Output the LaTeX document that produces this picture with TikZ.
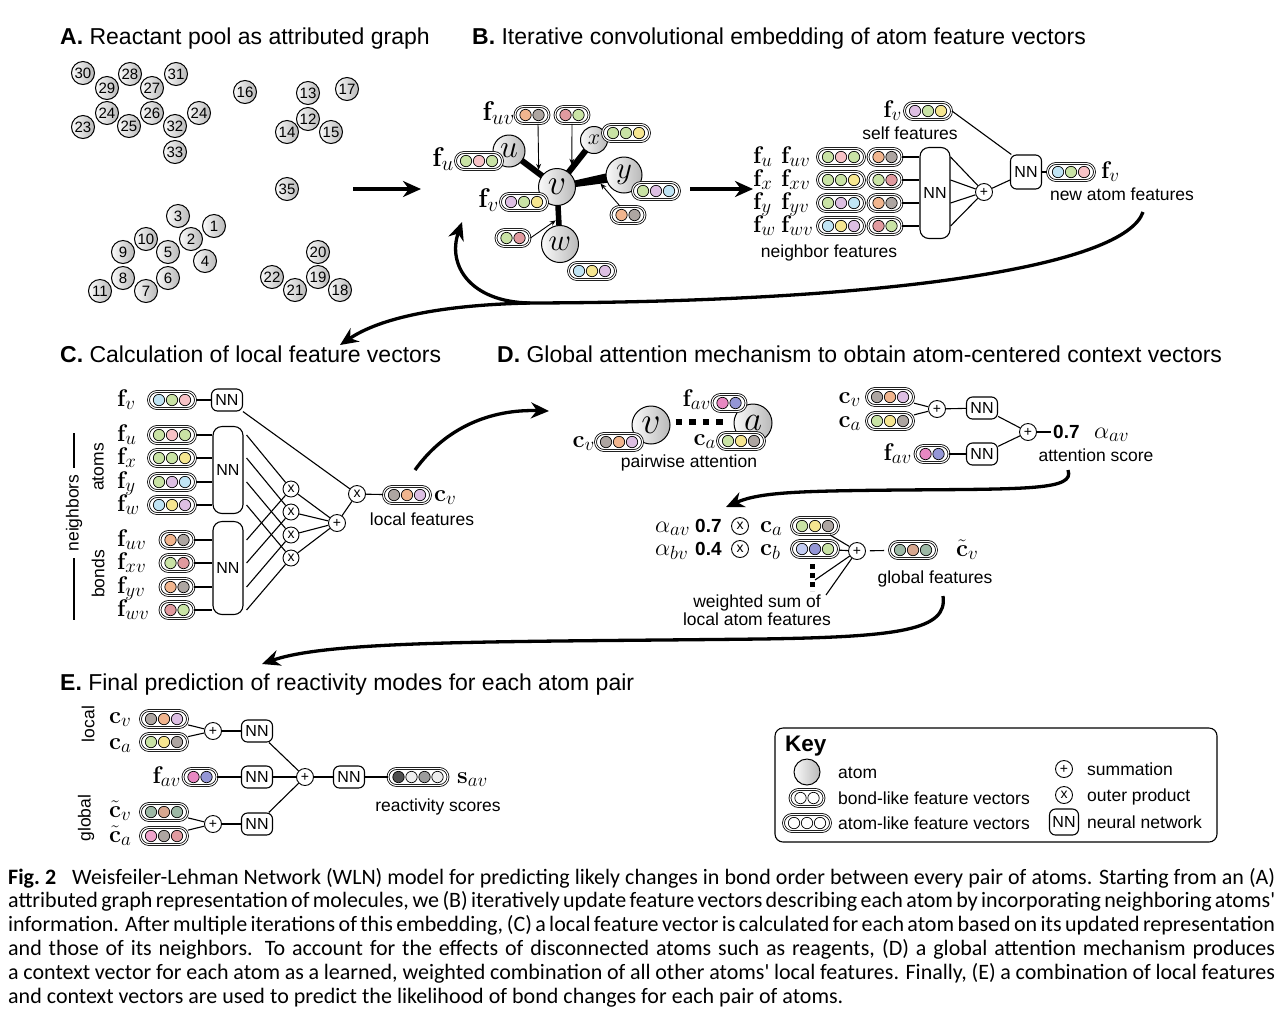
\RequirePackage{fix-cm}
\documentclass[tikz,border=0pt]{standalone}
\usepackage[no-math]{fontspec}
\setmainfont{Liberation Sans}
\newfontfamily\capfont{Carlito}
\usetikzlibrary{arrows.meta,calc}
\DeclareMathSizes{24}{24}{19}{14}
\DeclareMathSizes{27}{27}{21}{16}
\pgfdeclarelayer{bg}
\pgfsetlayers{bg,main}
\definecolor{cg}{HTML}{C9E3A5}
\definecolor{cpk}{HTML}{F7C2C6}
\definecolor{cy}{HTML}{F6E690}
\definecolor{cl}{HTML}{DDBFE3}
\definecolor{cb}{HTML}{C0E4F4}
\definecolor{co}{HTML}{F1B58E}
\definecolor{cgr}{HTML}{ADA5A1}
\definecolor{cr}{HTML}{E19A9F}
\definecolor{cm}{HTML}{E888C2}
\definecolor{cpw}{HTML}{9496D6}
\definecolor{cs}{HTML}{9DB8A5}
\definecolor{cbr}{HTML}{D7A78F}
\definecolor{cdk}{HTML}{4E4E4E}
\definecolor{cmid}{HTML}{9C9C9C}
\definecolor{clt}{HTML}{EDEDED}
\definecolor{cbl}{HTML}{C3CCF2}
\definecolor{cmp}{HTML}{EEA3CB}
\newcommand\fv[4]{%
  \foreach \cc [count=\ii] in {#4} {\xdef\fvn{\ii}}%
  \node[pill, minimum width={\fvn*13+8}] (#1) at (#2,#3) {};
  \foreach \cc [count=\ii] in {#4}
    {\draw[line width=0.7pt, fill=\cc] ({#2+(\ii-(\fvn+1)/2)*13},#3) circle (5.7);}
}
\tikzset{
  pill/.style={draw, line width=0.8pt, double=white, double distance=1.1pt, rounded corners=8.5pt, minimum height=17pt, inner sep=0pt, fill=white},
  atom/.style={circle, draw, line width=1pt, inner sep=0pt, left color=gray!4, right color=gray!55},
  atomA/.style={atom, minimum size=23pt, font=\fontsize{15}{15}\selectfont},
  op/.style={circle, draw, line width=0.9pt, minimum size=17pt, inner sep=0pt, fill=white, font=\fontsize{14}{14}\selectfont},
  nn/.style={draw, line width=1.1pt, rounded corners=6pt, minimum width=31pt, minimum height=22pt, inner sep=0pt, fill=white, font=\fontsize{16}{16}\selectfont},
  nnbig/.style={nn, rounded corners=9pt, minimum width=30pt},
  conn/.style={line width=1.1pt},
  lbl/.style={inner sep=0pt, anchor=base, font=\fontsize{17.5}{18}\selectfont},
  ml/.style={inner sep=0pt, font=\fontsize{24}{24}\selectfont},
  mlb/.style={inner sep=0pt, font=\fontsize{27}{27}\selectfont},
  ttl/.style={inner sep=0pt, anchor=base west, font=\fontsize{23}{24}\selectfont},
  num/.style={inner sep=0pt, anchor=west, font=\bfseries\fontsize{19}{19}\selectfont},
  bigarrow/.style={line width=3.3pt, -{Stealth[length=18pt,width=16pt]}},
  thinarrow/.style={line width=0.9pt, -{Stealth[length=6pt,width=5pt]}},
}
\begin{document}
\begin{tikzpicture}[x=1pt,y=-1pt]
\useasboundingbox (0,0) rectangle (1282,1013);
\begin{pgfonlayer}{bg}\fill[white] (0,0) rectangle (1282,1013);\end{pgfonlayer}

% titles
\node[ttl] (tA) at (60,44) {\textbf{A.} Reactant pool as attributed graph};
\node[ttl] (tB) at (472,44) {\textbf{B.} Iterative convolutional embedding of atom feature vectors};
\node[ttl] (tC) at (60,362) {\textbf{C.} Calculation of local feature vectors};
\node[ttl] (tD) at (497,362) {\textbf{D.} Global attention mechanism to obtain atom-centered context vectors};
\node[ttl] (tE) at (60,690) {\textbf{E.} Final prediction of reactivity modes for each atom pair};

% panel A
\foreach \n/\x/\y/\t in {a30/83/73/30, a28/130/74/28, a31/176/74/31, a29/107/88/29, a27/152/88/27,
  a23/83/127/23, a25/129/126/25, a24/107/113/24, a26/152/113/26, a32/175/126/32, a24b/199/113/24, a33/175/152/33,
  a16/245/92/16, a13/308/93/13, a17/347/89/17, a12/308/119/12, a14/287/132/14, a15/331/132/15, a35/287/189/35,
  a3/178/216/3, a1/214/226/1, a2/191/239/2, a10/146/239/10, a9/123/252/9, a5/168/252/5, a4/205/261/4,
  a8/123/278/8, a6/168/278/6, a11/100/291/11, a7/146/291/7,
  a20/318/252/20, a22/272/277/22, a19/318/277/19, a21/295/290/21, a18/340/290/18}
  {\node[atomA] (\n) at (\x,\y) {\t};}
\coordinate (ab1) at (353,189); \coordinate (ab2) at (421,189);
\draw[bigarrow] (ab1) -- (ab2);

% panel B left
\node[atom, minimum size=32pt] (bu) at (509,151) {\fontsize{32}{32}\selectfont$u$};
\node[atom, minimum size=37pt] (bv) at (557,187) {\fontsize{36}{36}\selectfont$v$};
\node[atom, minimum size=27pt] (bx) at (594,140) {\fontsize{22}{22}\selectfont$x$};
\node[atom, minimum size=36pt] (by) at (624,175) {\fontsize{31}{31}\selectfont$y$};
\node[atom, minimum size=37pt] (bw) at (560,244) {\fontsize{31}{31}\selectfont$w$};
\begin{pgfonlayer}{bg}
\draw[line width=6pt] (bv.center) -- (bu.center);
\draw[line width=6pt] (bv.center) -- (bx.center);
\draw[line width=5.5pt] (bv.center) -- (bw.center);
\fill ($(bv.center)!2.5pt!90:(by.center)$) -- ($(by.center)!5.5pt!-90:(bv.center)$) -- ($(by.center)!5.5pt!90:(bv.center)$) -- ($(bv.center)!2.5pt!-90:(by.center)$) -- cycle;
\end{pgfonlayer}
\fv{bfuv}{532}{115}{co,cgr}
\fv{bxv}{572}{115}{cr,cg}
\fv{bfx}{626}{133}{cg,cg,cy}
\fv{bfu}{479}{161}{cg,cpk,cg}
\fv{bfv}{524}{202}{cl,cg,cy}
\fv{bfy}{656}{191}{cg,cl,cb}
\fv{byv}{628}{215}{co,cgr}
\fv{bwv}{513}{238}{cg,cr}
\fv{bfw}{592}{271}{cb,cy,cl}
\node[mlb, anchor=base east] (lfuv) at (515,120) {$\mathbf{f}_{uv}$};
\node[mlb, anchor=base east] (lfu) at (454,166) {$\mathbf{f}_{u}$};
\node[mlb, anchor=base east] (lfv) at (499,207) {$\mathbf{f}_{v}$};
\coordinate (tuv) at ($(bu)!0.62!(bv)$);
\draw[thinarrow, shorten >=3.5pt] ([xshift=6pt]bfuv.south) -- (tuv);
\coordinate (txv) at ($(bx)!0.6!(bv)$);
\draw[thinarrow, shorten >=3.5pt] (bxv.south) -- (txv);
\coordinate (tyv) at ($(bv)!0.6!(by)$);
\draw[thinarrow, shorten >=5pt] ([xshift=-8pt]byv.north) -- (tyv);
\coordinate (twv) at ($(bv)!0.55!(bw)$);
\draw[thinarrow, shorten >=3.5pt] (bwv.east) -- (twv);
\coordinate (bb1) at (690,189); \coordinate (bb2) at (753,189);
\draw[bigarrow] (bb1) -- (bb2);

% panel B right
\fv{bself}{928}{111}{cl,cg,cy}
\node[ml, anchor=base east] (lbself) at (902,117) {$\mathbf{f}_{v}$};
\node[lbl] (tself) at (910,139) {self features};
\fv{r1a}{841}{157}{cg,cpk,cg} \fv{r1b}{885}{157}{co,cgr}
\fv{r2a}{841}{180}{cg,cg,cy} \fv{r2b}{885}{180}{cg,cr}
\fv{r3a}{841}{203}{cg,cl,cb} \fv{r3b}{885}{203}{co,cgr}
\fv{r4a}{841}{226}{cb,cy,cl} \fv{r4b}{885}{226}{cr,cg}
\node[ml, anchor=base west] (l1a) at (753,163) {$\mathbf{f}_{u}$};
\node[ml, anchor=base west] (l1b) at (781,163) {$\mathbf{f}_{uv}$};
\node[ml, anchor=base west] (l2a) at (753,186) {$\mathbf{f}_{x}$};
\node[ml, anchor=base west] (l2b) at (781,186) {$\mathbf{f}_{xv}$};
\node[ml, anchor=base west] (l3a) at (753,209) {$\mathbf{f}_{y}$};
\node[ml, anchor=base west] (l3b) at (781,209) {$\mathbf{f}_{yv}$};
\node[ml, anchor=base west] (l4a) at (753,232) {$\mathbf{f}_{w}$};
\node[ml, anchor=base west] (l4b) at (781,232) {$\mathbf{f}_{wv}$};
\node[nnbig, minimum height=91pt] (bnn) at (935,193) {NN};
\node[op] (bplus) at (984,192) {+};
\node[nn, minimum height=34pt] (bnn2) at (1026,172) {NN};
\fv{bnew}{1071}{172}{cb,cg,cpk}
\node[ml, anchor=base west] (lbnew) at (1101,178) {$\mathbf{f}_{v}$};
\node[lbl] (tnew) at (1122,200) {new atom features};
\node[lbl] (tneigh) at (829,257) {neighbor features};
\draw[conn] (r1b.east) -- (r1b.east -| bnn.west);
\draw[conn] (r2b.east) -- (r2b.east -| bnn.west);
\draw[conn] (r3b.east) -- (r3b.east -| bnn.west);
\draw[conn] (r4b.east) -- (r4b.east -| bnn.west);
\draw[conn] (bnn.east |- r1b) -- (bplus);
\draw[conn] (bnn.east |- r2b) -- (bplus);
\draw[conn] (bnn.east |- r3b) -- (bplus);
\draw[conn] (bnn.east |- r4b) -- (bplus);
\draw[conn] (bself.east) -- (bnn2.130);
\draw[conn] (bplus) -- ($(bnn2.west)+(0,8)$);
\draw[conn] (bnn2) -- (bnew);

% big curve B -> C
\coordinate (k1) at (1143,212);
\coordinate (kj) at (530,303);
\coordinate (k2) at (340,345);
\coordinate (k3) at (462,222);
\draw[bigarrow] (k1) .. controls (1125,265) and (900,302) .. (kj) .. controls (440,305) and (380,318) .. (k2);
\draw[bigarrow] (kj) .. controls (470,302) and (447,265) .. (k3);

% panel C
\fv{cfv}{172}{400}{cb,cg,cpk}
\node[ml, anchor=base west] (lcfv) at (117,406) {$\mathbf{f}_{v}$};
\node[nn] (cnn0) at (227,400) {NN};
\draw[conn] (cfv.east) -- (cnn0.west);
\fv{ca1}{172}{435}{cg,cpk,cg}
\fv{ca2}{172}{458}{cg,cg,cy}
\fv{ca3}{172}{482}{cg,cl,cb}
\fv{ca4}{172}{505}{cb,cy,cl}
\node[ml, anchor=base west] (lca1) at (117,441) {$\mathbf{f}_{u}$};
\node[ml, anchor=base west] (lca2) at (117,464) {$\mathbf{f}_{x}$};
\node[ml, anchor=base west] (lca3) at (117,488) {$\mathbf{f}_{y}$};
\node[ml, anchor=base west] (lca4) at (117,511) {$\mathbf{f}_{w}$};
\node[nnbig, minimum height=87pt] (cnna) at (228,470) {NN};
\fv{cb1}{177}{540}{co,cgr}
\fv{cb2}{177}{563}{cg,cr}
\fv{cb3}{177}{587}{co,cgr}
\fv{cb4}{177}{610}{cr,cg}
\node[ml, anchor=base west] (lcb1) at (117,546) {$\mathbf{f}_{uv}$};
\node[ml, anchor=base west] (lcb2) at (117,569) {$\mathbf{f}_{xv}$};
\node[ml, anchor=base west] (lcb3) at (117,593) {$\mathbf{f}_{yv}$};
\node[ml, anchor=base west] (lcb4) at (117,616) {$\mathbf{f}_{wv}$};
\node[nnbig, minimum height=93pt] (cnnb) at (228,568) {NN};
\foreach \r in {1,2,3,4} {
  \draw[conn] (ca\r.east) -- (ca\r.east -| cnna.west);
  \draw[conn] (cb\r.east) -- (cb\r.east -| cnnb.west);
}
\node[op, minimum size=16pt] (cx1) at (291,489) {x};
\node[op, minimum size=16pt] (cx2) at (291,512) {x};
\node[op, minimum size=16pt] (cx3) at (291,535) {x};
\node[op, minimum size=16pt] (cx4) at (291,558) {x};
\node[op] (cplus) at (337,523) {+};
\node[op] (cxt) at (357,494) {x};
\foreach \r in {1,2,3,4} {
  \draw[conn] ([xshift=3pt]cnna.east |- ca\r) -- (cx\r);
  \draw[conn] ([xshift=3pt]cnnb.east |- cb\r) -- (cx\r);
  \draw[conn] (cx\r) -- (cplus);
}
\draw[conn] (cplus) -- (cxt);
\draw[conn] (cnn0) -- (cxt);
\fv{cloc}{407}{495}{cgr,co,cl}
\draw[conn] (cxt) -- (cloc);
\node[ml, anchor=base west] (lcloc) at (434,501) {$\mathbf{c}_{v}$};
\node[lbl] (tloc) at (422,525) {local features};
\node[lbl, anchor=center, rotate=90] (tneighbors) at (74,513) {neighbors};
\node[lbl, anchor=center, rotate=90] (tatoms) at (98,467) {atoms};
\node[lbl, anchor=center, rotate=90] (tbonds) at (98,574) {bonds};
\coordinate (nl1) at (74,433); \coordinate (nl2) at (74,468);
\coordinate (nl3) at (74,558); \coordinate (nl4) at (74,620);
\draw[conn] (nl1) -- (nl2); \draw[conn] (nl3) -- (nl4);
\coordinate (cd1) at (415,470); \coordinate (cd2) at (549,411);
\draw[bigarrow] (cd1) .. controls (445,428) and (490,409) .. (cd2);

% panel D top
\node[atom, minimum size=38pt] (dv) at (651,425) {\fontsize{38}{38}\selectfont$v$};
\node[atom, minimum size=38pt] (da) at (753,423) {\fontsize{35}{35}\selectfont$a$};
\draw[line width=6.5pt, dash pattern=on 6.5pt off 7pt] ([shift={(5,-3)}]dv.east) -- ++(49,0);
\fv{dfavp}{729}{403}{cm,cpw}
\node[ml, anchor=base east] (ldfav) at (711,406) {$\mathbf{f}_{av}$};
\fv{dcvp}{619}{442}{cgr,co,cl}
\node[ml, anchor=base east] (ldcv) at (595,447) {$\mathbf{c}_{v}$};
\fv{dcap}{741}{441}{cg,cy,cgr}
\node[ml, anchor=base east] (ldca) at (716,445) {$\mathbf{c}_{a}$};
\node[lbl] (tpair) at (689,467) {pairwise attention};

\fv{dcv2}{890}{397}{cgr,co,cl}
\node[ml, anchor=base east] (ldcv2) at (861,403) {$\mathbf{c}_{v}$};
\fv{dca2}{890}{421}{cg,cy,cgr}
\node[ml, anchor=base east] (ldca2) at (861,427) {$\mathbf{c}_{a}$};
\node[op] (dp1) at (937,409) {+};
\node[nn] (dnn1) at (982,408) {NN};
\fv{dfav2}{932}{454}{cm,cpw}
\node[ml, anchor=base east] (ldfav2) at (912,460) {$\mathbf{f}_{av}$};
\node[nn] (dnn2) at (982,454) {NN};
\node[op] (dp2) at (1028,432) {+};
\node[num] (d07) at (1053,432) {0.7};
\node[ml, anchor=base west] (ldalpha) at (1094,438) {$\alpha_{av}$};
\node[lbl] (tatt) at (1096,461) {attention score};
\draw[conn] (dcv2) -- (dp1);
\draw[conn] (dca2) -- (dp1);
\draw[conn] (dp1) -- (dnn1);
\draw[conn] (dnn1) -- (dp2);
\draw[conn] (dfav2) -- (dnn2);
\draw[conn] (dnn2) -- (dp2);
\draw[conn] (dp2) -- ([xshift=-2pt]d07.west);
\coordinate (dd1) at (1068,470); \coordinate (dd2) at (726,507);
\draw[bigarrow] (dd1) .. controls (1075,490) and (1030,489) .. (900,490) .. controls (800,491) and (760,492) .. (dd2);

% panel D bottom
\node[ml, anchor=base west] (lal1) at (655,532) {$\alpha_{av}$};
\node[num] (d07b) at (695,526) {0.7};
\node[op] (dxa) at (740,526) {x};
\node[ml, anchor=base west] (ldca3) at (760,532) {$\mathbf{c}_{a}$};
\fv{dcap3}{815}{526}{cg,cy,cgr}
\node[ml, anchor=base west] (lal2) at (655,555) {$\alpha_{bv}$};
\node[num] (d04) at (695,549) {0.4};
\node[op] (dxb) at (740,549) {x};
\node[ml, anchor=base west] (ldcb) at (760,555) {$\mathbf{c}_{b}$};
\fv{dcbp}{815}{549}{cbl,cpw,cg}
\node[op] (dsum) at (857,551) {+};
\draw[conn] (dcap3) -- (dsum);
\draw[conn] (dcbp) -- (dsum);
\coordinate (dot1) at (812,564); \coordinate (dot2) at (812,591);
\draw[line width=5pt, dash pattern=on 5pt off 4pt] (dot1) -- (dot2);
\coordinate (w1) at (815,580); \coordinate (w2) at (826,595);
\draw[conn] (w1) -- (dsum);
\draw[conn] (w2) -- (dsum);
\fv{dgc}{913}{550}{cs,cbr,cs}
\node[ml, anchor=base west] (ldgc) at (956,556) {$\tilde{\mathbf{c}}_{v}$};
\draw[conn, shorten <=4pt, shorten >=5pt] (dsum) -- (dgc);
\node[lbl] (tglob) at (935,583) {global features};
\node[lbl, anchor=center, align=center] (twsum) at (757,610) {weighted sum of\\local atom features};
\coordinate (de1) at (943,596); \coordinate (de2) at (262,664);
\draw[bigarrow] (de1) .. controls (948,630) and (900,637) .. (760,639) .. controls (500,642) and (330,640) .. (de2);

% panel E
\node[lbl, anchor=center, rotate=90] (tlocal) at (88,724) {local};
\node[lbl, anchor=center, rotate=90] (tglobal) at (86,818) {global};
\fv{ecv}{164}{719}{cgr,co,cl}
\node[ml, anchor=base west] (lecv) at (109,723) {$\mathbf{c}_{v}$};
\fv{eca}{164}{742}{cg,cy,cgr}
\node[ml, anchor=base west] (leca) at (109,749) {$\mathbf{c}_{a}$};
\node[op] (ep1) at (213,731) {+};
\node[nn] (enn1) at (257,731) {NN};
\fv{efav}{200}{777}{cm,cpw}
\node[ml, anchor=base east] (lefav) at (181,783) {$\mathbf{f}_{av}$};
\node[nn] (enn2) at (257,777) {NN};
\node[op] (ep2) at (305,777) {+};
\node[nn] (enn3) at (349,777) {NN};
\fv{es}{418}{777}{cdk,clt,cmid,clt}
\node[ml, anchor=base west] (les) at (457,783) {$\mathbf{s}_{av}$};
\node[lbl] (treact) at (438,811) {reactivity scores};
\fv{egv}{164}{812}{cs,cbr,cs}
\node[ml, anchor=base west] (legv) at (109,817) {$\tilde{\mathbf{c}}_{v}$};
\fv{ega}{164}{836}{cmp,cgr,cr}
\node[ml, anchor=base west] (lega) at (109,842) {$\tilde{\mathbf{c}}_{a}$};
\node[op] (ep3) at (213,824) {+};
\node[nn] (enn4) at (257,824) {NN};
\draw[conn] (ecv) -- (ep1);
\draw[conn] (eca) -- (ep1);
\draw[conn] (ep1) -- (enn1);
\draw[conn] (enn1) -- (ep2);
\draw[conn] (efav) -- (enn2);
\draw[conn] (enn2) -- (ep2);
\draw[conn] (egv) -- (ep3);
\draw[conn] (ega) -- (ep3);
\draw[conn] (ep3) -- (enn4);
\draw[conn] (enn4) -- (ep2);
\draw[conn] (ep2) -- (enn3);
\draw[conn] (enn3) -- (es);

% key
\node[draw, line width=1.1pt, rounded corners=8pt, minimum width=442pt, minimum height=114pt, inner sep=0pt] (keybox) at (996,785) {};
\node[inner sep=0pt, anchor=base west, font=\bfseries\fontsize{22.5}{22.5}\selectfont] (tkey) at (785,751) {Key};
\node[atom, minimum size=26pt] (katom) at (807,772) {};
\node[lbl, anchor=base west] (tkatom) at (838,778) {atom};
\fv{kbond}{807}{798}{white,white}
\node[lbl, anchor=base west] (tkbond) at (838,804) {bond-like feature vectors};
\fv{katomv}{807}{823}{white,white,white}
\node[lbl, anchor=base west] (tkatomv) at (838,829) {atom-like feature vectors};
\node[op] (kplus) at (1064,769) {+};
\node[lbl, anchor=base west] (tkplus) at (1087,775) {summation};
\node[op] (kx) at (1064,795) {x};
\node[lbl, anchor=base west] (tkx) at (1087,801) {outer product};
\node[nn, minimum width=29pt, minimum height=26pt] (knn) at (1064,822) {NN};
\node[lbl, anchor=base west] (tknn) at (1087,828) {neural network};

% caption
\node[anchor=base west, inner sep=0pt] (cap) at (8,884) {\parbox[t]{1267pt}{\capfont\fontsize{22}{23.8}\selectfont
\spaceskip=0.23em plus 0.4em minus 0.12em
\hbox to 1267pt{\textbf{Fig.~2}\hskip 16pt Weisfeiler-Lehman Network (WLN) model for predicting likely changes in bond order between every pair of atoms. Starting from an (A)}%
\hbox to 1267pt{attributed graph representation of molecules, we (B) iteratively update feature vectors describing each atom by incorporating neighboring atoms'}%
\hbox to 1267pt{information. After multiple iterations of this embedding, (C) a local feature vector is calculated for each atom based on its updated representation}%
\hbox to 1267pt{and those of its neighbors. To account for the effects of disconnected atoms such as reagents, (D) a global attention mechanism produces}%
\hbox to 1267pt{a context vector for each atom as a learned, weighted combination of all other atoms' local features. Finally, (E) a combination of local features}%
\hbox to 1267pt{and context vectors are used to predict the likelihood of bond changes for each pair of atoms.\hfil}}};
\end{tikzpicture}
\end{document}
